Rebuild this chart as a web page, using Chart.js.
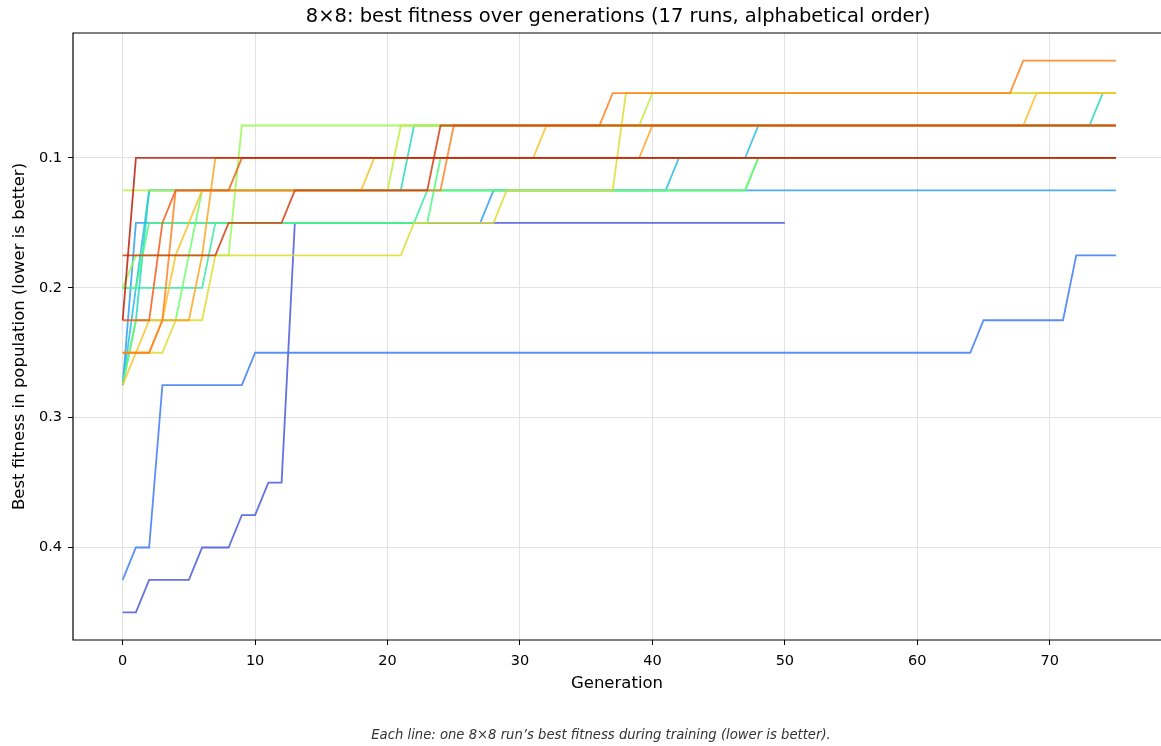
<!DOCTYPE html>
<html>
<head>
<meta charset="utf-8">
<script src="https://cdn.jsdelivr.net/npm/chart.js@4.4.1/dist/chart.umd.min.js"></script>
<style>
  html, body { margin: 0; padding: 0; background: #fff; }
</style>
</head>
<body>
<canvas id="chart" width="1161" height="746"></canvas>
<script>
  // values: each run is the list of generations where
  // its line bends, with the best fitness at that generation
  var runLabels = ['run 01', 'run 02', 'run 03', 'run 04', 'run 05', 'run 06', 'run 07', 'run 08', 'run 09',
                   'run 10', 'run 11', 'run 12', 'run 13', 'run 14', 'run 15', 'run 16', 'run 17'];
  var runGenerations = [
    [0, 1, 2, 5, 6, 8, 9, 10, 11, 12, 13, 50],
    [0, 1, 2, 3, 9, 10, 64, 65, 71, 72, 75],
    [0, 1, 27, 28, 75],
    [0, 1, 2, 41, 42, 47, 48, 75],
    [0, 1, 2, 21, 22, 73, 74, 75],
    [0, 6, 7, 22, 23, 47, 48, 75],
    [0, 1, 2, 23, 24, 75],
    [0, 1, 4, 5, 6, 47, 48, 75],
    [0, 1, 8, 9, 75],
    [0, 20, 21, 39, 40, 75],
    [0, 3, 4, 6, 7, 21, 22, 28, 29, 37, 38, 75],
    [0, 1, 2, 3, 4, 5, 6, 18, 19, 31, 32, 68, 69, 75],
    [0, 2, 3, 5, 6, 7, 39, 40, 75],
    [0, 2, 3, 4, 24, 25, 36, 37, 67, 68, 75],
    [0, 2, 3, 4, 8, 9, 75],
    [0, 7, 8, 12, 13, 23, 24, 75],
    [0, 1, 75]
  ];
  var runBestFitness = [
    [0.45, 0.45, 0.425, 0.425, 0.4, 0.4, 0.375, 0.375, 0.35, 0.35, 0.15, 0.15],
    [0.425, 0.4, 0.4, 0.275, 0.275, 0.25, 0.25, 0.225, 0.225, 0.175, 0.175],
    [0.275, 0.15, 0.15, 0.125, 0.125],
    [0.275, 0.2, 0.125, 0.125, 0.1, 0.1, 0.075, 0.075],
    [0.275, 0.225, 0.125, 0.125, 0.075, 0.075, 0.05, 0.05],
    [0.2, 0.2, 0.15, 0.15, 0.125, 0.125, 0.1, 0.1],
    [0.2, 0.2, 0.15, 0.15, 0.1, 0.1],
    [0.275, 0.225, 0.225, 0.175, 0.125, 0.125, 0.1, 0.1],
    [0.2, 0.175, 0.175, 0.075, 0.075],
    [0.125, 0.125, 0.075, 0.075, 0.05, 0.05],
    [0.25, 0.25, 0.225, 0.225, 0.175, 0.175, 0.15, 0.15, 0.125, 0.125, 0.05, 0.05],
    [0.275, 0.25, 0.225, 0.225, 0.175, 0.15, 0.125, 0.125, 0.1, 0.1, 0.075, 0.075, 0.05, 0.05],
    [0.25, 0.25, 0.225, 0.225, 0.175, 0.1, 0.1, 0.075, 0.075],
    [0.25, 0.25, 0.225, 0.125, 0.125, 0.075, 0.075, 0.05, 0.05, 0.025, 0.025],
    [0.225, 0.225, 0.15, 0.125, 0.125, 0.1, 0.1],
    [0.175, 0.175, 0.15, 0.15, 0.125, 0.125, 0.075, 0.075],
    [0.225, 0.1, 0.1]
  ];
  var generationTicks = [0, 10, 20, 30, 40, 50, 60, 70];
  var fitnessTicks = [0.1, 0.2, 0.3, 0.4];
  var fitnessTickLabels = ['0.1', '0.2', '0.3', '0.4'];

  var chartTitle = '8\u00d78: best fitness over generations (17 runs, alphabetical order)';
  var caption = 'Each line: one 8\u00d78 run\u2019s best fitness during training (lower is better).';

  var FONT = '"DejaVu Sans", sans-serif';
  Chart.defaults.font.family = FONT;
  Chart.defaults.color = '#000';

  // turbo colormap (polynomial fit)
  function turbo(t, a) {
    var r = 0.13572138 + t * (4.61539260 + t * (-42.66032258 + t * (132.13108234 + t * (-152.94239396 + t * 59.28637943))));
    var g = 0.09140261 + t * (2.19418839 + t * (4.84296658 + t * (-14.18503333 + t * (4.27729857 + t * 2.82956604))));
    var b = 0.10667330 + t * (12.64194608 + t * (-60.58204836 + t * (110.36276771 + t * (-89.90310912 + t * 27.34824973))));
    function c(v) { return Math.round(Math.max(0, Math.min(1, v)) * 255); }
    return 'rgba(' + c(r) + ',' + c(g) + ',' + c(b) + ',' + a + ')';
  }

  var datasets = runLabels.map(function (label, i) {
    return {
      label: label,
      data: runGenerations[i].map(function (g, k) { return { x: g, y: runBestFitness[i][k] }; }),
      borderColor: turbo(0.1 + 0.8 * i / (runLabels.length - 1), 0.85),
      borderWidth: 1.8,
      pointRadius: 0,
      fill: false,
      tension: 0,
      order: runLabels.length - i
    };
  });

  var frame = {
    id: 'frame',
    afterDraw: function (chart) {
      var ctx = chart.ctx, a = chart.chartArea;
      ctx.save();
      ctx.strokeStyle = '#000';
      ctx.lineWidth = 1.2;
      ctx.beginPath();
      ctx.moveTo(chart.width + 5, a.top);
      ctx.lineTo(a.left, a.top);
      ctx.lineTo(a.left, a.bottom);
      ctx.lineTo(chart.width + 5, a.bottom);
      ctx.stroke();
      ctx.textAlign = 'center';
      ctx.textBaseline = 'middle';
      ctx.fillStyle = '#000';
      ctx.font = '19.5px ' + FONT;
      ctx.fillText(chartTitle, 618, 17);
      ctx.fillStyle = '#333';
      ctx.font = 'italic 13.2px ' + FONT;
      ctx.fillText(caption, 601, 736);
      ctx.restore();
    }
  };

  new Chart(document.getElementById('chart'), {
    type: 'line',
    data: { datasets: datasets },
    plugins: [frame],
    options: {
      responsive: false,
      animation: false,
      events: [],
      layout: { padding: { top: 33, left: 0, right: 0, bottom: 46 } },
      plugins: { legend: { display: false }, tooltip: { enabled: false } },
      scales: {
        x: {
          type: 'linear',
          min: -3.75,
          max: 78.4,
          afterBuildTicks: function (s) { s.ticks = generationTicks.map(function (v) { return { value: v }; }); },
          afterFit: function (s) { s.height = 60; },
          border: { display: false },
          grid: { color: '#e2e2e2', lineWidth: 1, drawTicks: true, tickLength: 5, tickColor: '#000', tickWidth: 1 },
          ticks: { font: { size: 14.5 }, color: '#000', padding: 7.5, maxRotation: 0, autoSkip: false },
          title: { display: true, text: 'Generation', font: { size: 16.5 }, color: '#000', padding: { top: 0, bottom: 6.1 } }
        },
        y: {
          type: 'linear',
          reverse: true,
          min: 0.00375,
          max: 0.47125,
          afterBuildTicks: function (s) { s.ticks = fitnessTicks.map(function (v) { return { value: v }; }); },
          afterFit: function (s) { s.width = 73; },
          border: { display: false },
          grid: { color: '#e2e2e2', lineWidth: 1, drawTicks: true, tickLength: 5, tickColor: '#000', tickWidth: 1 },
          ticks: {
            font: { size: 14.5 }, color: '#000', padding: 6, autoSkip: false,
            callback: function (v, i) { return fitnessTickLabels[i]; }
          },
          title: { display: true, text: 'Best fitness in population (lower is better)', font: { size: 16.5 }, color: '#000', padding: { top: 10, bottom: 0 } }
        }
      }
    }
  });
</script>
</body>
</html>
